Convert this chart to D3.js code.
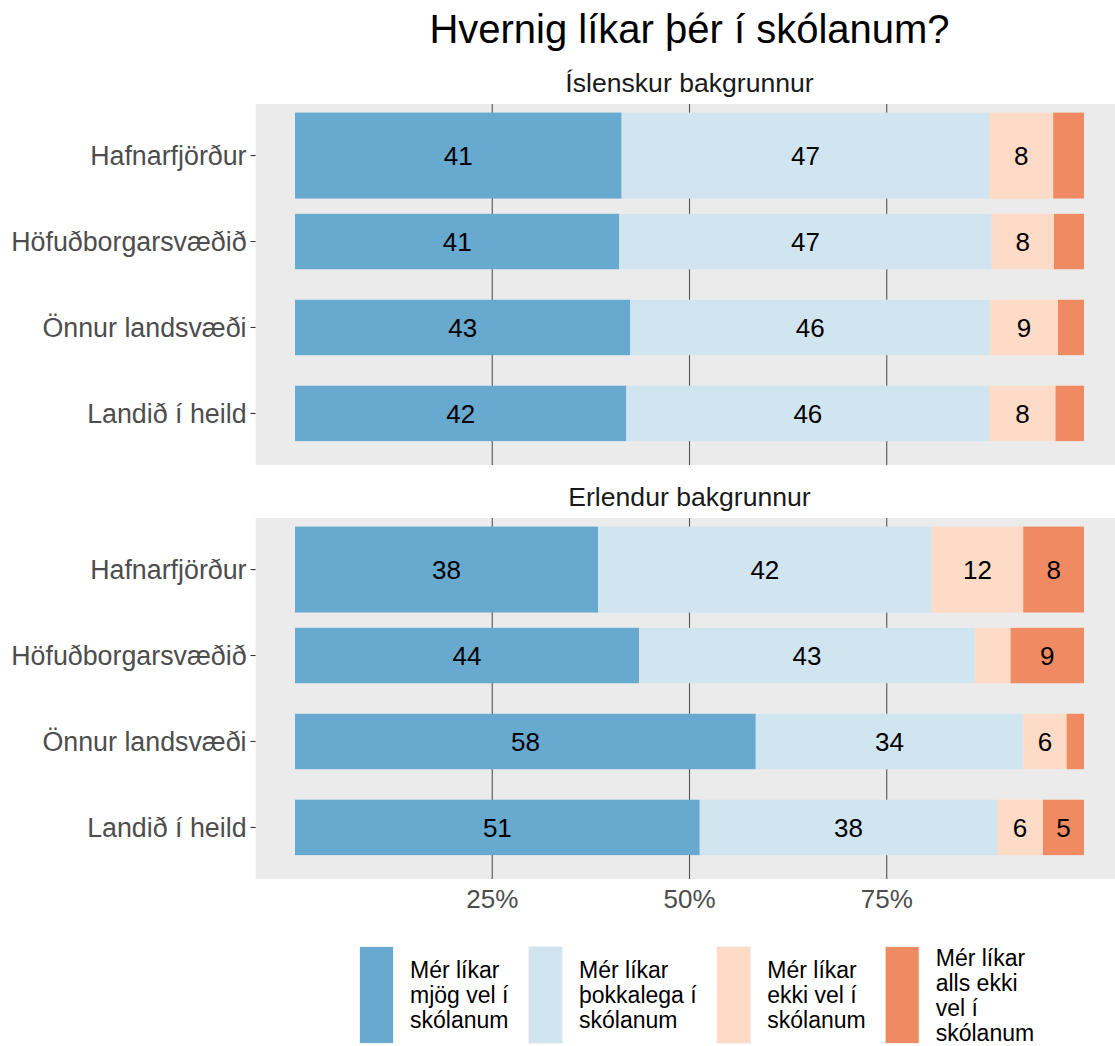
<!DOCTYPE html>
<html>
<head>
<meta charset="utf-8">
<script src="https://cdn.jsdelivr.net/npm/d3@7"></script>
<style>
  body { margin: 0; background: #fff; }
  text { font-family: "Liberation Sans", Arial, sans-serif; }
</style>
</head>
<body>
<script>
// data
var title = 'Hvernig líkar þér í skólanum?';
var panels = ['Íslenskur bakgrunnur', 'Erlendur bakgrunnur'];
var regions = ['Hafnarfjörður', 'Höfuðborgarsvæðið', 'Önnur landsvæði', 'Landið í heild'];
var answers = [
    'Mér líkar mjög vel í skólanum',
    'Mér líkar þokkalega í skólanum',
    'Mér líkar ekki vel í skólanum',
    'Mér líkar alls ekki vel í skólanum'
];
var legendLines = [
    ['Mér líkar', 'mjög vel í', 'skólanum'],
    ['Mér líkar', 'þokkalega í', 'skólanum'],
    ['Mér líkar', 'ekki vel í', 'skólanum'],
    ['Mér líkar', 'alls ekki', 'vel í', 'skólanum']
];
var colors = ['#67a9cf', '#d1e5f0', '#fddbc7', '#ef8a62'];

// percentages per region, one array per answer
var islMjog = [41.4, 41.1, 42.5, 42.0];
var islThokk = [46.6, 47.2, 45.6, 46.0];
var islEkki = [8.1, 7.9, 8.6, 8.4];
var islAlls = [3.9, 3.8, 3.3, 3.6];

var erlMjog = [38.4, 43.6, 58.4, 51.3];
var erlThokk = [42.3, 42.6, 33.9, 37.7];
var erlEkki = [11.6, 4.5, 5.5, 5.8];
var erlAlls = [7.7, 9.3, 2.2, 5.2];

// relative bar thickness per region
var barWidths = [1.0, 0.645, 0.645, 0.645];
var xTicks = [25, 50, 75];

var series = [
    [islMjog, islThokk, islEkki, islAlls],
    [erlMjog, erlThokk, erlEkki, erlAlls]
];

var w = 1115, h = 1046;
var svg = d3.select('body')
    .append('svg')
    .attr('width', w)
    .attr('height', h);

var x = d3.scaleLinear()
    .domain([0, 100])
    .range([295, 1084]);

var panelTops = [104, 518];
var panelH = 361;

svg.append('text')
    .attr('x', (x(-5) + x(105)) / 2)
    .attr('y', 43)
    .attr('text-anchor', 'middle')
    .style('font-size', '40px')
    .style('fill', '#000')
    .text(title);

panels.forEach(function(pName, p) {
    var top = panelTops[p];
    var y = d3.scalePoint()
        .domain(regions)
        .range([top, top + panelH])
        .padding(0.6);
    var step = y.step();

    var g = svg.append('g').attr('class', 'panel');

    g.append('rect')
        .attr('x', x(-5))
        .attr('y', top)
        .attr('width', x(105) - x(-5))
        .attr('height', panelH)
        .style('fill', '#ebebeb');

    // strip label
    svg.append('text')
        .attr('x', (x(-5) + x(105)) / 2)
        .attr('y', top - 12)
        .attr('text-anchor', 'middle')
        .style('font-size', '26.6px')
        .style('fill', '#1a1a1a')
        .text(pName);

    g.selectAll('.grid')
        .data(xTicks)
        .enter()
        .append('line')
        .attr('x1', function(d) { return x(d); })
        .attr('x2', function(d) { return x(d); })
        .attr('y1', top)
        .attr('y2', top + panelH)
        .style('stroke', '#555')
        .style('stroke-width', 1.1);

    // stacked segments
    var rows = regions.map(function(r, i) {
        var acc = 0;
        return series[p].map(function(arr, k) {
            var seg = { region: r, idx: i, k: k, v: arr[i], x0: acc, x1: acc + arr[i] };
            acc += arr[i];
            return seg;
        });
    });
    var segs = [].concat.apply([], rows);

    g.selectAll('.seg')
        .data(segs)
        .enter()
        .append('rect')
        .attr('class', 'seg')
        .attr('x', function(d) { return x(d.x0); })
        .attr('width', function(d) { return x(d.x1) - x(d.x0); })
        .attr('y', function(d) { return y(d.region) - barWidths[d.idx] * step / 2; })
        .attr('height', function(d) { return barWidths[d.idx] * step; })
        .style('fill', function(d) { return colors[d.k]; });

    g.selectAll('.lbl')
        .data(segs.filter(function(d) { return d.v >= 5; }))
        .enter()
        .append('text')
        .attr('x', function(d) { return x((d.x0 + d.x1) / 2); })
        .attr('y', function(d) { return y(d.region) + 9.5; })
        .attr('text-anchor', 'middle')
        .style('font-size', '26px')
        .style('fill', '#000')
        .text(function(d) { return Math.round(d.v); });

    // y axis
    var ya = svg.append('g').attr('class', 'yaxis');
    ya.selectAll('line')
        .data(regions)
        .enter()
        .append('line')
        .attr('x1', x(-5) - 5)
        .attr('x2', x(-5))
        .attr('y1', function(d) { return y(d); })
        .attr('y2', function(d) { return y(d); })
        .style('stroke', '#333')
        .style('stroke-width', 1.1);
    ya.selectAll('text')
        .data(regions)
        .enter()
        .append('text')
        .attr('x', x(-5) - 9)
        .attr('y', function(d) { return y(d) + 9.5; })
        .attr('text-anchor', 'end')
        .style('font-size', '26.8px')
        .style('fill', '#4d4d4d')
        .text(function(d) { return d; });
});

// x axis labels under the bottom panel
svg.selectAll('.xlab')
    .data(xTicks)
    .enter()
    .append('text')
    .attr('class', 'xlab')
    .attr('x', function(d) { return x(d); })
    .attr('y', 908)
    .attr('text-anchor', 'middle')
    .style('font-size', '26px')
    .style('fill', '#4d4d4d')
    .text(function(d) { return d + '%'; });

// legend
var legend = svg.append('g').attr('class', 'legend');
var kx = 360, keyW = 33, keyTop = 947, keyH = 96;
answers.forEach(function(a, i) {
    legend.append('rect')
        .attr('x', kx - 1)
        .attr('y', keyTop - 1)
        .attr('width', keyW + 2)
        .attr('height', keyH + 2)
        .style('fill', '#f2f2f2');
    legend.append('rect')
        .attr('x', kx)
        .attr('y', keyTop)
        .attr('width', keyW)
        .attr('height', keyH)
        .style('fill', colors[i]);
    var lines = legendLines[i];
    var lineH = 25;
    var firstBase = keyTop + keyH / 2 - (lines.length - 1) * lineH / 2 + 8;
    var t = legend.append('text')
        .style('font-size', '23px')
        .style('fill', '#000');
    lines.forEach(function(l, j) {
        t.append('tspan')
            .attr('x', kx + keyW + 17)
            .attr('y', firstBase + j * lineH)
            .text(l);
    });
    var tw = t.node().getBBox().width;
    kx = kx + keyW + 17 + tw + 20;
});
</script>
</body>
</html>
